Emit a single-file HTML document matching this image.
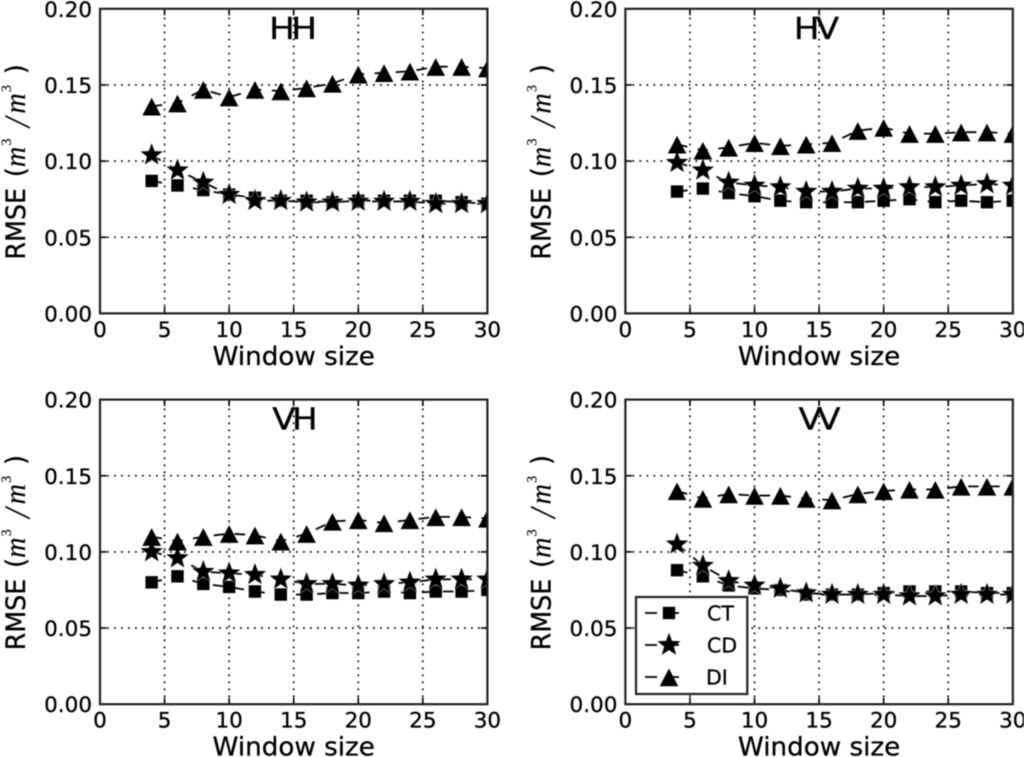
<!DOCTYPE html>
<html>
<head>
<meta charset="utf-8">
<title>RMSE versus window size</title>
<style>
html,body{margin:0;padding:0;background:#fff;}
#chart{display:block;width:1024px;height:757px;filter:blur(0.45px);}
text{fill:#000;stroke:#000;stroke-width:0.3px;font-family:"DejaVu Sans","Liberation Sans",sans-serif;}
.math{font-family:"Liberation Serif",serif;font-style:italic;stroke-width:0.15px;}
.sup{font-family:"Liberation Serif",serif;font-style:normal;stroke-width:0.15px;}
</style>
</head>
<body>
<svg id="chart" xmlns="http://www.w3.org/2000/svg" width="1024" height="757" viewBox="0 0 1024 757"></svg>
<script>
// Categories and tick labels
const windowSizes = [4,6,8,10,12,14,16,18,20,22,24,26,28,30];
const xTicks = [0,5,10,15,20,25,30];
const yTicks = [0,0.05,0.10,0.15,0.20];

// HH series
const hhCT = [.087,.084,.081,.078,.076,.074,.074,.073,.074,.074,.074,.074,.073,.072];
const hhCD = [.104,.094,.086,.078,.074,.074,.073,.073,.0735,.0735,.0735,.072,.072,.072];
const hhDI = [.136,.138,.147,.142,.147,.146,.148,.151,.157,.158,.159,.162,.162,.161];
// HV series
const hvCT = [.080,.082,.079,.077,.074,.073,.073,.073,.074,.075,.073,.074,.073,.074];
const hvCD = [.099,.094,.086,.084,.083,.080,.080,.082,.082,.083,.083,.084,.085,.084];
const hvDI = [.111,.107,.109,.112,.110,.111,.112,.120,.122,.118,.118,.119,.119,.118];
// VH series
const vhCT = [.080,.084,.079,.077,.074,.072,.072,.073,.073,.074,.073,.074,.074,.075];
const vhCD = [.100,.096,.087,.086,.085,.082,.079,.079,.078,.079,.080,.082,.082,.082];
const vhDI = [.110,.107,.110,.112,.111,.107,.112,.120,.121,.119,.121,.123,.123,.122];
// VV series
const vvCT = [.088,.084,.078,.076,.075,.072,.072,.072,.073,.074,.074,.074,.073,.073];
const vvCD = [.105,.091,.081,.078,.076,.073,.072,.072,.072,.071,.071,.072,.072,.072];
const vvDI = [.140,.135,.138,.137,.137,.135,.134,.138,.140,.141,.141,.143,.143,.143];

const xMax = 30;
const yMax = 0.20;

const NS = 'http://www.w3.org/2000/svg';
const svg = document.getElementById('chart');

function make(tag, attrs, parent){
  const node = document.createElementNS(NS, tag);
  for (const k in attrs) node.setAttribute(k, attrs[k]);
  parent.appendChild(node);
  return node;
}

function squarePoints(cx, cy){
  const s = 6.2;
  return [[cx-s,cy-s],[cx+s,cy-s],[cx+s,cy+s],[cx-s,cy+s]].map(p=>p.join(',')).join(' ');
}
function starPoints(cx, cy){
  const outer = 12.2, inner = 5.1, pts = [];
  for (let i=0;i<10;i++){
    const r = i%2 ? inner : outer;
    const a = -Math.PI/2 + i*Math.PI/5;
    pts.push((cx+r*Math.cos(a)).toFixed(2)+','+(cy+r*Math.sin(a)).toFixed(2));
  }
  return pts.join(' ');
}
function trianglePoints(cx, cy){
  return [[cx,cy-8.5],[cx+9.3,cy+9.2],[cx-9.3,cy+9.2]].map(p=>p.join(',')).join(' ');
}
const markerFns = {square:squarePoints, star:starPoints, triangle:trianglePoints};

function drawPanel(cfg){
  const x0 = cfg.left, x1 = cfg.left + 387.4, yTop = cfg.top, yBot = cfg.top + 304.6;
  const sx = v => x0 + (v/xMax)*(x1-x0);
  const sy = v => yBot - (v/yMax)*(yBot-yTop);
  const key = cfg.title.toLowerCase();

  const panel = make('g', {}, svg);
  
  

  const clip = make('clipPath', {id:'clip-'+key}, panel);
  make('rect', {x:x0, y:yTop, width:x1-x0, height:yBot-yTop}, clip);

  // Grid
  const grid = make('g', {stroke:'#000','stroke-width':1.6,'stroke-dasharray':'1.8 5.2',fill:'none'}, panel);
  
  
  xTicks.slice(1,-1).forEach(t => {
    make('line', {x1:sx(t), x2:sx(t), y1:yBot, y2:yTop}, grid);
  });
  yTicks.slice(1,-1).forEach(t => {
    make('line', {x1:x0, x2:x1, y1:sy(t), y2:sy(t)}, grid);
  });

  // Series
  const plot = make('g', {'clip-path':'url(#clip-'+key+')'}, panel);
  
  
  cfg.series.forEach(s => {
    const g = make('g', {}, plot);
    
    
    make('polyline', {
      points: windowSizes.map((w,i)=>sx(w)+','+sy(s.values[i])).join(' '),
      fill:'none', stroke:'#000', 'stroke-width':1.8, 'stroke-dasharray':'10.5 10.5'
    }, g);
    windowSizes.forEach((w,i) => {
      const attrs = {points: markerFns[s.marker](sx(w), sy(s.values[i])), fill:'#000'};
      if (s.marker === 'star') { attrs.stroke = '#fff'; attrs['stroke-width'] = 0.4; }
      const m = make('polygon', attrs, g);
      
      
    });
  });

  // Ticks
  const ticks = make('g', {stroke:'#000','stroke-width':1.6}, panel);
  
  
  xTicks.forEach(t => {
    make('line', {x1:sx(t), x2:sx(t), y1:yBot, y2:yBot-6.5}, ticks);
    make('line', {x1:sx(t), x2:sx(t), y1:yTop, y2:yTop+6.5}, ticks);
  });
  yTicks.forEach(t => {
    make('line', {x1:x0, x2:x0+6.5, y1:sy(t), y2:sy(t)}, ticks);
    make('line', {x1:x1, x2:x1-6.5, y1:sy(t), y2:sy(t)}, ticks);
  });

  // Frame
  const frame = make('rect', {x:x0, y:yTop, width:x1-x0, height:yBot-yTop, fill:'none', stroke:'#222', 'stroke-width':2.2}, panel);
  
  

  // Tick labels
  xTicks.forEach(t => {
    const lab = make('text', {x:sx(t), y:yBot+23.5, 'font-size':21.5, 'text-anchor':'middle'}, panel);
    
    
    lab.textContent = String(t);
  });
  yTicks.forEach(t => {
    const lab = make('text', {x:x0-8, y:sy(t)+8, 'font-size':21.5, 'text-anchor':'end'}, panel);
    
    
    lab.textContent = t.toFixed(2);
  });

  // Axis titles
  const xTitle = make('text', {x:(x0+x1)/2, y:yBot+51.5, 'font-size':26.2, 'text-anchor':'middle'}, panel);
  
  
  xTitle.textContent = 'Window size';

  const squeeze = 0.94;
  const yTitle = make('text', {
    transform:'translate('+(x0-75)+','+((yTop+yBot)/2)+') rotate(-90) scale('+squeeze+',1)',
    'font-size':27
  }, panel);
  
  
  const part = (txt, cls, size, along, up) => {
    const a = {'font-size':size, x:along/squeeze, y:-up};
    if (cls) a['class'] = cls;
    const t = make('tspan', a, yTitle);
    t.textContent = txt;
  };
  part('RMSE', null, 27, -98.5, 0);
  part('(', null, 27, -16, 0);
  part('m', 'math', 30, -6, 0);
  part('3', 'sup', 15, 15.5, 14);
  part('/', 'math', 36, 34, -4);
  part('m', 'math', 30, 47.5, 0);
  part('3', 'sup', 15, 69, 14);
  part(')', null, 27, 87, 0);

  // Panel title
  const title = make('text', {
    transform:'translate('+((x0+x1)/2 + cfg.shift)+','+(yTop+30)+') scale(1.14,1)',
    'font-size':30, 'text-anchor':'middle', 'letter-spacing':cfg.spacing
  }, panel);
  
  
  title.textContent = cfg.title;
}

drawPanel({title:'HH', left:100, top:8.8, spacing:-3.2, shift:-2.5, series:[
  {name:'CT', marker:'square', values:hhCT},
  {name:'CD', marker:'star', values:hhCD},
  {name:'DI', marker:'triangle', values:hhDI}]});
drawPanel({title:'HV', left:625.4, top:8.8, spacing:-3.2, shift:-4.5, series:[
  {name:'CT', marker:'square', values:hvCT},
  {name:'CD', marker:'star', values:hvCD},
  {name:'DI', marker:'triangle', values:hvDI}]});
drawPanel({title:'VH', left:100, top:399.6, spacing:-3.2, shift:-0.5, series:[
  {name:'CT', marker:'square', values:vhCT},
  {name:'CD', marker:'star', values:vhCD},
  {name:'DI', marker:'triangle', values:vhDI}]});
drawPanel({title:'VV', left:625.4, top:399.6, spacing:-4.2, shift:-2, series:[
  {name:'CT', marker:'square', values:vvCT},
  {name:'CD', marker:'star', values:vvCD},
  {name:'DI', marker:'triangle', values:vvDI}]});

// Legend
const legendNames = ['CT','CD','DI'];
const legendMarkers = ['square','star','triangle'];
const legend = make('g', {}, svg);


make('rect', {x:636, y:597, width:111.3, height:97, fill:'#fff', stroke:'#222', 'stroke-width':2.2}, legend);
legendNames.forEach((name,i) => {
  const cy = 613 + i*32;
  const entry = make('g', {}, legend);
  
  
  make('line', {x1:645, x2:657, y1:cy, y2:cy, stroke:'#000', 'stroke-width':1.8}, entry);
  make('line', {x1:669, x2:679, y1:cy, y2:cy, stroke:'#000', 'stroke-width':1.8}, entry);
  make('polygon', {points:markerFns[legendMarkers[i]](669, cy), fill:'#000'}, entry);
  const lab = make('text', {x:707 + (i===2?-1:0), y:cy+7.5, 'font-size':20.5}, entry);
  
  
  lab.textContent = name;
});
</script>
</body>
</html>
